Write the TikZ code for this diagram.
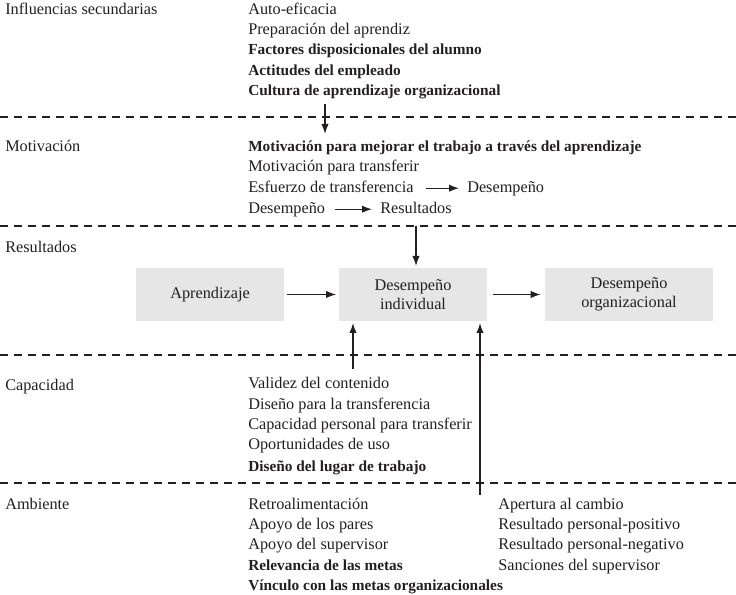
\documentclass[tikz,border=0pt]{standalone}
\usepackage{fontspec}
\setmainfont{Liberation Serif}
\usetikzlibrary{arrows.meta}
\definecolor{ink}{HTML}{231F20}
\definecolor{boxgray}{HTML}{E6E6E6}
\tikzset{
  lbl/.style={anchor=base west, inner sep=0pt, text=ink},
  itm/.style={anchor=base west, inner sep=0pt, text=ink},
  bitm/.style={itm, font=\fontsize{11.5}{14}\selectfont\bfseries},
  sep/.style={draw=ink, line width=0.85pt, dash pattern=on 6pt off 4.5pt},
  arr/.style={draw=ink, line width=1pt, -{Latex[length=7.5pt,width=5.5pt]}},
  box/.style={fill=boxgray, text=ink, minimum width=111pt, minimum height=40pt, align=center, inner sep=0pt, font=\fontsize{12.2}{14}\selectfont},
}
\begin{document}
\begin{tikzpicture}[x=0.75pt,y=-0.75pt, font=\fontsize{12.2}{14}\selectfont]
\useasboundingbox (0,0) rectangle (736,595);
% separators
\coordinate (s1l) at (0,117); \coordinate (s1r) at (736,117);
\coordinate (s2l) at (0,226); \coordinate (s2r) at (736,226);
\coordinate (s3l) at (0,355); \coordinate (s3r) at (736,355);
\coordinate (s4l) at (0,483); \coordinate (s4r) at (736,483);
\draw[sep] (s1l) -- (s1r);
\draw[sep] (s2l) -- (s2r);
\draw[sep] (s3l) -- (s3r);
\draw[sep] (s4l) -- (s4r);
% left labels
\node[lbl] (Linf) at (5,15) {Influencias secundarias};
\node[lbl] (Lmot) at (5,152) {Motivación};
\node[lbl] (Lres) at (5,253) {Resultados};
\node[lbl] (Lcap) at (5,391) {Capacidad};
\node[lbl] (Lamb) at (5,509) {Ambiente};
% influencias
\node[itm] (i1) at (248,15) {Auto-eficacia};
\node[itm] (i2) at (248,35) {Preparación del aprendiz};
\node[bitm] (i3) at (248,55) {Factores disposicionales del alumno};
\node[bitm] (i4) at (248,76) {Actitudes del empleado};
\node[bitm] (i5) at (248,96) {Cultura de aprendizaje organizacional};
% motivacion
\node[bitm] (m1) at (248,152) {Motivación para mejorar el trabajo a través del aprendizaje};
\node[itm] (m2) at (248,172) {Motivación para transferir};
\node[itm] (m3) at (248,193) {Esfuerzo de transferencia};
\node[itm] (m3b) at (467,193) {Desempeño};
\node[itm] (m4) at (248,214) {Desempeño};
\node[itm] (m4b) at (380,214) {Resultados};
\draw[arr] ([xshift=9pt,yshift=3.6pt]m3.base east) -- ([xshift=-6pt,yshift=3.6pt]m3b.base west);
\draw[arr] ([xshift=7pt,yshift=3.6pt]m4.base east) -- ([xshift=-6pt,yshift=3.6pt]m4b.base west);
% boxes
\node[box] (apr) at (210,294.5) {Aprendizaje};
\node[box] (ind) at (413,294.5) {Desempeño\\individual};
\node[box, minimum width=126pt] (org) at (629,294.5) {Desempeño\\organizacional};
\draw[arr] ([xshift=2pt]apr.east) -- ([xshift=-2pt]ind.east -| ind.west);
\draw[arr] ([xshift=4pt]ind.east) -- ([xshift=-3pt]org.west);
% vertical arrows
\coordinate (a1s) at (325,104); \coordinate (a1e) at (325,134);
\draw[arr] (a1s) -- (a1e);
\coordinate (a2s) at (416,226); \coordinate (a2e) at (416,266);
\draw[arr] (a2s) -- (a2e);
\coordinate (a3s) at (353,369); \coordinate (a3e) at (353,323);
\draw[arr] (a3s) -- (a3e);
\coordinate (a4s) at (480,495); \coordinate (a4e) at (480,323);
\draw[arr] (a4s) -- (a4e);
% capacidad
\node[itm] (c1) at (248,389) {Validez del contenido};
\node[itm] (c2) at (248,410) {Diseño para la transferencia};
\node[itm] (c3) at (248,430) {Capacidad personal para transferir};
\node[itm] (c4) at (248,450) {Oportunidades de uso};
\node[bitm] (c5) at (248,471) {Diseño del lugar de trabajo};
% ambiente
\node[itm] (e1) at (248,509) {Retroalimentación};
\node[itm] (e2) at (248,529) {Apoyo de los pares};
\node[itm] (e3) at (248,549) {Apoyo del supervisor};
\node[bitm] (e4) at (248,570) {Relevancia de las metas};
\node[bitm] (e5) at (248,590) {Vínculo con las metas organizacionales};
\node[itm] (f1) at (498,509) {Apertura al cambio};
\node[itm] (f2) at (498,529) {Resultado personal-positivo};
\node[itm] (f3) at (498,549) {Resultado personal-negativo};
\node[itm] (f4) at (498,570) {Sanciones del supervisor};
\end{tikzpicture}
\end{document}
